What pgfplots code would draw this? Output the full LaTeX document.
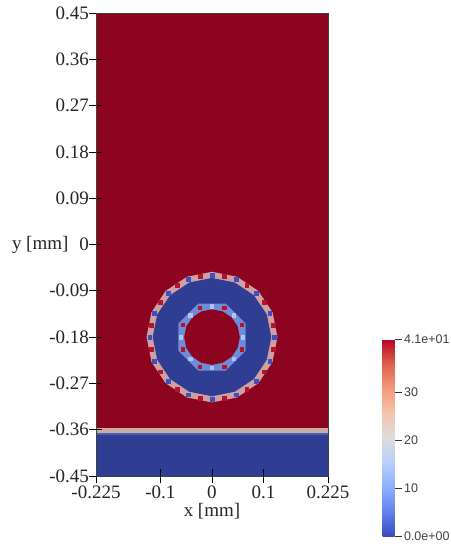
\documentclass[border=0pt]{standalone}
\usepackage{fontspec}
\setmainfont{Liberation Serif}
\setsansfont{Liberation Sans}
\usepackage{pgfplots}
\pgfplotsset{compat=1.18}

% field colours as rendered (shaded)
\definecolor{fieldred}{RGB}{140,4,32}
\definecolor{fieldblue}{RGB}{47,62,146}
\definecolor{bandtan}{RGB}{203,172,164}
\definecolor{edgeblue}{RGB}{72,94,178}
\definecolor{mixouter}{RGB}{206,160,165}
\definecolor{mixinner}{RGB}{110,140,215}
\definecolor{speckred}{RGB}{178,20,40}
\definecolor{speckblue}{RGB}{60,80,190}
\definecolor{specklight}{RGB}{170,195,245}

\pgfplotsset{
  colormap={coolwarm}{
    rgb255(0)=(59,76,192)
    rgb255(1)=(98,130,234)
    rgb255(2)=(141,176,254)
    rgb255(3)=(184,208,249)
    rgb255(4)=(221,221,221)
    rgb255(5)=(245,196,173)
    rgb255(6)=(244,154,123)
    rgb255(7)=(222,96,77)
    rgb255(8)=(180,4,38)
  }
}

\begin{document}
\begin{tikzpicture}
\useasboundingbox (-96pt,-70pt) rectangle (354pt,476pt);
\begin{axis}[
  at={(0,0)}, anchor=south west,
  width=232pt, height=463pt, scale only axis,
  xmin=-0.225, xmax=0.225, ymin=-0.45, ymax=0.45,
  axis on top,
  axis line style={draw=black!75, line width=0.8pt},
  tick pos=left, tick align=center, major tick length=13pt,
  tick style={black, line width=0.7pt},
  xtick={-0.225,-0.1,0,0.1,0.225},
  xticklabels={-0.225,-0.1,0,0.1,0.225},
  ytick={-0.45,-0.36,-0.27,-0.18,-0.09,0,0.09,0.18,0.27,0.36,0.45},
  yticklabels={-0.45,-0.36,-0.27,-0.18,-0.09,0,0.09,0.18,0.27,0.36,0.45},
  ticklabel style={font=\fontsize{19}{21}\selectfont, text=black!85},
  xticklabel style={yshift=0pt},
  yticklabel style={xshift=3pt},
  xlabel={x [mm]},
  xlabel style={font=\fontsize{19}{21}\selectfont, text=black!85, yshift=2pt},
  every axis y label/.style={at={(axis description cs:0,0.5)}, anchor=east,
    xshift=-24pt, font=\fontsize{19}{21}\selectfont, text=black!85},
  ylabel={y [mm]},
  colormap name=coolwarm,
  point meta min=0, point meta max=41,
  colorbar,
  colorbar style={
    at={(parent axis.south east)},
    anchor=south west,
    xshift=46pt, yshift=-60pt,
    width=12pt, height=197pt, scale only axis,
    axis line style={draw=none},
    ytick={0,10,20,30,41},
    yticklabels={0.0e+00,10,20,30,4.1e+01},
    ytick pos=right, tick align=outside, major tick length=7pt,
    ytick style={black!80, line width=0.6pt},
    yticklabel style={font=\sffamily\fontsize{12.5}{14}\selectfont, text=black!75, xshift=-1pt},
  },
]
% upper phase (value 41)
\addplot[draw=none, fill=fieldred] coordinates
  {(-0.225,-0.3574) (0.225,-0.3574) (0.225,0.45) (-0.225,0.45)} -- cycle;
% interface band
\addplot[draw=none, fill=bandtan] coordinates
  {(-0.225,-0.366) (0.225,-0.366) (0.225,-0.3574) (-0.225,-0.3574)} -- cycle;
\addplot[draw=none, fill=edgeblue] coordinates
  {(-0.225,-0.3705) (0.225,-0.3705) (0.225,-0.366) (-0.225,-0.366)} -- cycle;
% substrate (value 0)
\addplot[draw=none, fill=fieldblue] coordinates
  {(-0.225,-0.45) (0.225,-0.45) (0.225,-0.3705) (-0.225,-0.3705)} -- cycle;

% ring: outer diffuse interface
\addplot[draw=none, fill=mixouter] coordinates {
  (0.127,-0.18) (0.1173,-0.1314) (0.0898,-0.0902) (0.0486,-0.0627)
  (0,-0.053) (-0.0486,-0.0627) (-0.0898,-0.0902) (-0.1173,-0.1314)
  (-0.127,-0.18) (-0.1173,-0.2286) (-0.0898,-0.2698) (-0.0486,-0.2973)
  (0,-0.307) (0.0486,-0.2973) (0.0898,-0.2698) (0.1173,-0.2286)} -- cycle;
\addplot[only marks, mark=square*, mark size=1.9pt, color=speckblue] coordinates {
  (0.121,-0.18) (0.1118,-0.1337) (0.0856,-0.0944) (0.0463,-0.0682)
  (0,-0.059) (-0.0463,-0.0682) (-0.0856,-0.0944) (-0.1118,-0.1337)
  (-0.121,-0.18) (-0.1118,-0.2263) (-0.0856,-0.2656) (-0.0463,-0.2918)
  (0,-0.301) (0.0463,-0.2918) (0.0856,-0.2656) (0.1118,-0.2263)};
\addplot[only marks, mark=square*, mark size=1.9pt, color=speckred] coordinates {
  (0.1187,-0.1564) (0.1187,-0.2036) (-0.1187,-0.1564) (-0.1187,-0.2036)
  (0.0236,-0.0613) (-0.0236,-0.0613) (0.0236,-0.2987) (-0.0236,-0.2987)
  (0.1006,-0.1128) (0.1006,-0.2472) (-0.1006,-0.1128) (-0.1006,-0.2472)
  (0.0672,-0.0794) (-0.0672,-0.0794) (0.0672,-0.2806) (-0.0672,-0.2806)};
% ring body (value 0)
\addplot[draw=none, fill=fieldblue] coordinates {
  (0.115,-0.18) (0.1062,-0.136) (0.0813,-0.0987) (0.044,-0.0738)
  (0,-0.065) (-0.044,-0.0738) (-0.0813,-0.0987) (-0.1062,-0.136)
  (-0.115,-0.18) (-0.1062,-0.224) (-0.0813,-0.2613) (-0.044,-0.2862)
  (0,-0.295) (0.044,-0.2862) (0.0813,-0.2613) (0.1062,-0.224)} -- cycle;
% ring: inner diffuse interface (octagonal)
\addplot[draw=none, fill=mixinner] coordinates {
  (0.065,-0.1531) (0.0269,-0.115) (-0.0269,-0.115) (-0.065,-0.1531)
  (-0.065,-0.2069) (-0.0269,-0.245) (0.0269,-0.245) (0.065,-0.2069)} -- cycle;
\addplot[only marks, mark=square*, mark size=1.6pt, color=specklight] coordinates {
  (0.06,-0.18) (-0.06,-0.18) (0,-0.12) (0,-0.24)
  (0.0424,-0.1376) (-0.0424,-0.1376) (0.0424,-0.2224) (-0.0424,-0.2224)};
\addplot[only marks, mark=square*, mark size=1.6pt, color=speckred] coordinates {
  (0.0573,-0.1563) (0.0573,-0.2037) (-0.0573,-0.1563) (-0.0573,-0.2037)
  (0.0237,-0.1227) (-0.0237,-0.1227) (0.0237,-0.2373) (-0.0237,-0.2373)};
% enclosed upper phase (value 41)
\addplot[draw=none, fill=fieldred] coordinates {
  (0.054,-0.18) (0.0499,-0.1593) (0.0382,-0.1418) (0.0207,-0.1301)
  (0,-0.126) (-0.0207,-0.1301) (-0.0382,-0.1418) (-0.0499,-0.1593)
  (-0.054,-0.18) (-0.0499,-0.2007) (-0.0382,-0.2182) (-0.0207,-0.2299)
  (0,-0.234) (0.0207,-0.2299) (0.0382,-0.2182) (0.0499,-0.2007)} -- cycle;
\end{axis}
\end{tikzpicture}
\end{document}
